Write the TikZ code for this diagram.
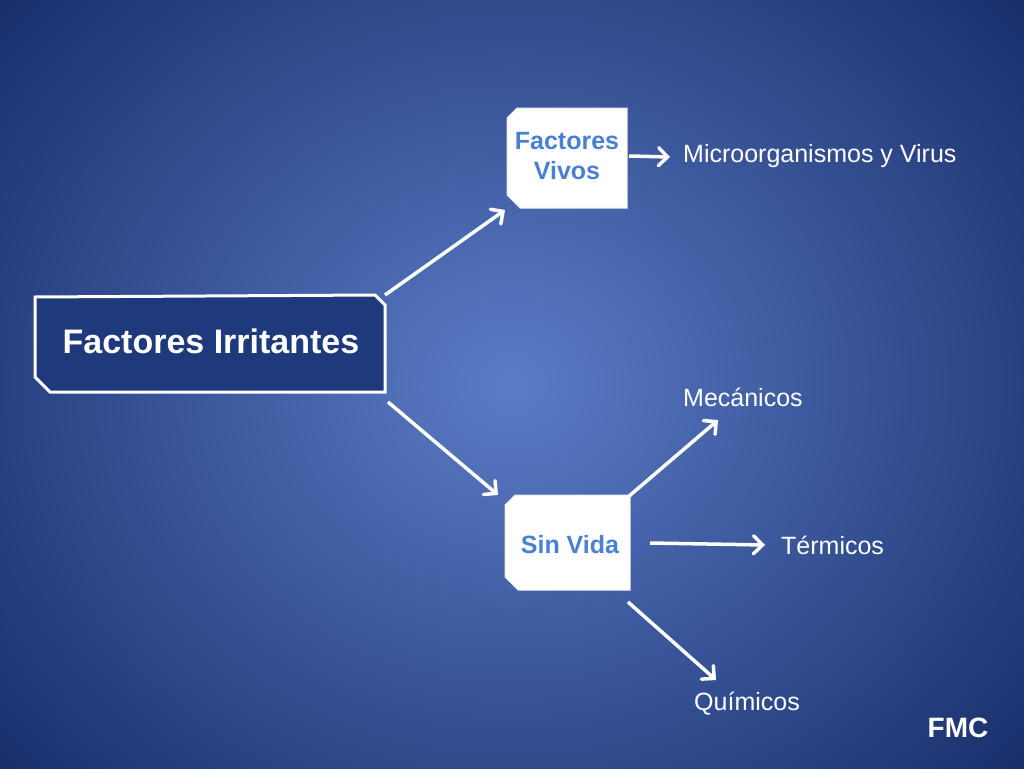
\documentclass[tikz,border=0pt]{standalone}
\usepackage{fontspec}
\setmainfont{Liberation Sans}
\usetikzlibrary{arrows.meta}
\definecolor{bgin}{HTML}{5B7CC6}
\definecolor{bgout}{HTML}{142A66}
\definecolor{boxblue}{HTML}{1E3A7C}
\definecolor{txtblue}{HTML}{4A80D2}
\begin{document}
\begin{tikzpicture}[x=1pt,y=-1pt,
  arr/.style={draw=white,line width=3.5pt,-{Straight Barb[length=9pt,width=18pt,line cap=round]}},
  lbl/.style={text=white,font=\fontsize{25}{29}\selectfont,anchor=west,inner sep=0pt},
  wbox/.style={fill=white,draw=white!85!gray,line width=1pt}]
\useasboundingbox (0,0) rectangle (1024,768);
\shade[inner color=bgin,outer color=bgout] (-200,-250) rectangle (1224,1018);
% main box
\draw[line width=3pt,draw=white,fill=boxblue] (35,297)--(375,295)--(385,305)--(385,392)--(50,392)--(35,377)--cycle;
\node[text=white,font=\bfseries\fontsize{34}{38}\selectfont] (main) at (211,341) {Factores Irritantes};
% Factores Vivos
\draw[wbox] (517,108)--(627,108)--(627,208)--(520,208)--(507,195)--(507,118)--cycle;
\node[text=txtblue,font=\bfseries\fontsize{25}{30}\selectfont,align=center] (vivos) at (567,156) {Factores\\Vivos};
% Sin Vida
\draw[wbox] (515,495)--(630,495)--(630,590)--(518,590)--(505,577)--(505,505)--cycle;
\node[text=txtblue,font=\bfseries\fontsize{25}{30}\selectfont] (sin) at (570,545) {Sin Vida};
% labels
\node[lbl] (micro) at (683,156) {Microorganismos y Virus};
\node[lbl] (mec) at (683,397) {Mecánicos};
\node[lbl] (ter) at (781,545) {Térmicos};
\node[lbl] (qui) at (694,704) {Químicos};
\node[text=white,font=\bfseries\fontsize{28}{32}\selectfont] (fmc) at (958,728) {FMC};
% arrow coordinates
\coordinate (a1) at (385,295); \coordinate (b1) at (505,210);
\coordinate (a2) at (388,402); \coordinate (b2) at (498,495);
\coordinate (a3) at (629,156); \coordinate (b3) at (670,157);
\coordinate (a4) at (628,497); \coordinate (b4) at (718,420);
\coordinate (a5) at (650,543); \coordinate (b5) at (765,545);
\coordinate (a6) at (628,602); \coordinate (b6) at (716,680);
\draw[arr] (a1)--(b1);
\draw[arr] (a2)--(b2);
\draw[arr] (a3)--(b3);
\draw[arr] (a4)--(b4);
\draw[arr] (a5)--(b5);
\draw[arr] (a6)--(b6);
\end{tikzpicture}
\end{document}
